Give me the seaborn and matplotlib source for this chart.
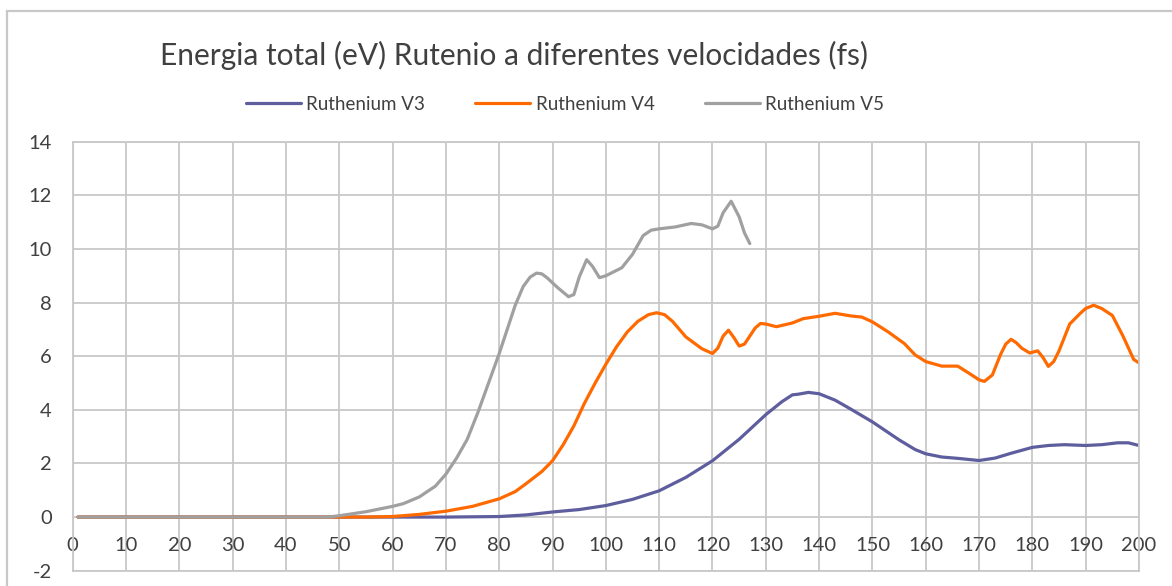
import numpy as np
import pandas as pd
import matplotlib
matplotlib.use("Agg")
import matplotlib.pyplot as plt
import seaborn as sns
from matplotlib.patches import Rectangle
from matplotlib.lines import Line2D

# ---- data ----
title = "Energia total (eV) Rutenio a diferentes velocidades (fs)"
series_names = ["Ruthenium V3", "Ruthenium V4", "Ruthenium V5"]

v3_x = [1, 10, 20, 30, 40, 50, 60, 70, 80, 85, 90, 95, 100, 105, 110, 115, 120, 125, 130,
        133, 135, 136, 138, 140, 143, 146, 150, 155, 158, 160, 163, 166, 170, 173, 176, 180,
        183, 186, 190, 193, 196, 198, 200]
v3_y = [0.0, 0.0, 0.0, 0.0, 0.0, 0.0, 0.0, 0.0, 0.02, 0.08, 0.19, 0.28, 0.43, 0.66, 0.98,
        1.48, 2.1, 2.9, 3.82, 4.3, 4.56, 4.58, 4.65, 4.6, 4.36, 4.02, 3.55, 2.88, 2.52, 2.36,
        2.24, 2.19, 2.11, 2.2, 2.38, 2.6, 2.67, 2.7, 2.67, 2.7, 2.77, 2.77, 2.67]

v4_x = [1, 10, 20, 30, 40, 50, 55, 60, 65, 70, 75, 80, 83, 85, 88, 90, 92, 94, 96, 98,
        100, 102, 104, 106, 108, 109.5, 111, 112.5, 115, 118, 120, 121, 122, 123, 124, 125,
        126, 127, 128, 129, 130, 132, 135, 137, 140, 143, 146, 148, 150, 153, 156, 158, 160,
        163, 166, 168, 170, 171, 172.5, 174, 175, 176, 177, 178, 179.5, 181, 182, 183, 184,
        185, 187, 189, 190, 191.5, 193, 195, 197, 199, 200]
v4_y = [0.0, 0.0, 0.0, 0.0, 0.0, 0.0, 0.0, 0.02, 0.1, 0.22, 0.4, 0.68, 0.95, 1.24, 1.7,
        2.1, 2.7, 3.4, 4.25, 5.0, 5.7, 6.35, 6.9, 7.3, 7.55, 7.62, 7.55, 7.3, 6.72, 6.28, 6.1,
        6.3, 6.75, 6.97, 6.7, 6.38, 6.45, 6.75, 7.05, 7.22, 7.2, 7.1, 7.24, 7.4, 7.49, 7.6,
        7.5, 7.46, 7.28, 6.9, 6.47, 6.05, 5.8, 5.63, 5.63, 5.38, 5.12, 5.06, 5.3, 6.05, 6.45,
        6.63, 6.5, 6.3, 6.12, 6.2, 5.95, 5.62, 5.8, 6.2, 7.2, 7.6, 7.78, 7.9, 7.78, 7.52,
        6.75, 5.88, 5.75]

v5_x = [1, 10, 20, 30, 40, 45, 48, 50, 55, 60, 62, 65, 68, 70, 72, 74, 76, 78, 80, 81,
        83, 84.5, 85.8, 87, 88, 89, 91, 93, 94, 95, 96.4, 97.5, 98.8, 100, 103, 105, 107,
        108.5, 110, 113, 116, 118, 120, 121, 122, 123.5, 125, 126, 127]
v5_y = [0.0, 0.0, 0.0, 0.0, 0.0, 0.0, 0.0, 0.05, 0.2, 0.4, 0.5, 0.75, 1.15, 1.6, 2.2,
        2.9, 3.9, 5.0, 6.1, 6.7, 7.9, 8.6, 8.95, 9.1, 9.07, 8.92, 8.55, 8.22, 8.3, 8.95,
        9.6, 9.35, 8.93, 9.0, 9.3, 9.8, 10.5, 10.7, 10.75, 10.82, 10.95, 10.9, 10.75,
        10.85, 11.35, 11.78, 11.2, 10.6, 10.2]

colors = ["#5E5E9E", "#FF6A00", "#A0A0A0"]

x_ticks = list(range(0, 201, 10))
y_ticks = list(range(-2, 15, 2))

df = pd.concat([
    pd.DataFrame({"x": v3_x, "y": v3_y, "serie": series_names[0]}),
    pd.DataFrame({"x": v4_x, "y": v4_y, "serie": series_names[1]}),
    pd.DataFrame({"x": v5_x, "y": v5_y, "serie": series_names[2]}),
], ignore_index=True)

sns.set_theme(style="white")
plt.rcParams["font.family"] = ["Lato", "DejaVu Sans"]

W, H = 1172, 586
fig = plt.figure(figsize=(W / 100, H / 100), dpi=100)
ax = fig.add_axes([72.7 / W, 1 - 570.7 / H, (1139 - 72.7) / W, (570.7 - 141.7) / H])

sns.lineplot(data=df, x="x", y="y", hue="serie", palette=colors, sort=False,
             estimator=None, linewidth=2.3, legend=False, ax=ax,
             hue_order=series_names)
for ln in ax.get_lines():
    ln.set_solid_joinstyle("round")
    ln.set_solid_capstyle("round")

ax.set_xlim(0, 200)
ax.set_ylim(-2, 14)
ax.set_xticks(x_ticks)
ax.set_yticks(y_ticks)
ax.set_xticklabels([str(t) for t in x_ticks])
ax.set_yticklabels([str(t) for t in y_ticks])
ax.set_xlabel("")
ax.set_ylabel("")
ax.grid(True, color="#C8C8C8", linewidth=1.3)
ax.set_axisbelow(True)
for s in ax.spines.values():
    s.set_color("#C8C8C8")
    s.set_linewidth(1.3)
ax.tick_params(axis="x", length=0, pad=-24, labelsize=14.5, labelcolor="#404040")
ax.tick_params(axis="y", length=0, pad=15, labelsize=14.5, labelcolor="#404040")

# outer chart border
fig.patches.append(Rectangle((6.5 / W, -0.1), 1.2, 1 - 10.5 / H + 0.1, transform=fig.transFigure,
                             fill=False, edgecolor="#C8C8C8", linewidth=1.6))

fig.text(160 / W, 1 - 55 / H, title, ha="left", va="center", fontsize=21.5, color="#404040")

handles = [Line2D([], [], color=c, linewidth=2.3) for c in colors]
fig.legend(handles, series_names, loc="center", bbox_to_anchor=(565 / W, 1 - 104 / H),
           ncol=3, frameon=False, fontsize=13.5, handlelength=2.95, columnspacing=2.65,
           handletextpad=0.3, labelcolor="#404040")

fig.savefig("out.png", dpi=100)
